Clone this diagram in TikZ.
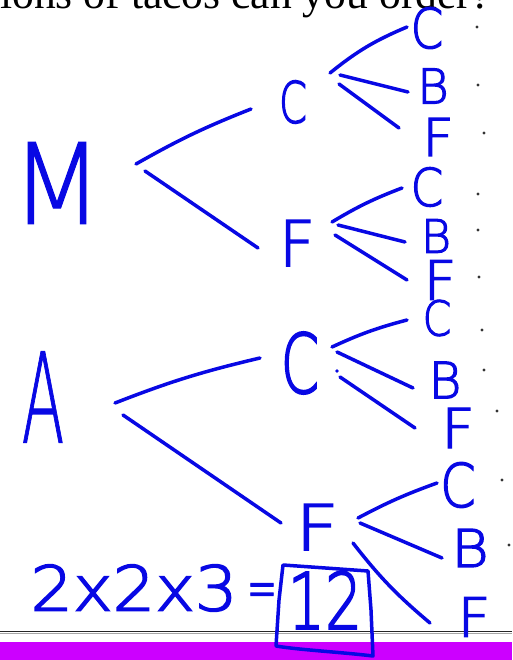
\documentclass[tikz,border=0pt]{standalone}
\usepackage{fontspec}
\usepackage{graphicx}
\setmainfont{Liberation Serif}
\setsansfont{Liberation Sans}
% thin sans for the pen-written letters, thickened by size
\IfFontExistsTF{DejaVu Sans ExtraLight}
  {\newfontfamily\bigpen{DejaVu Sans ExtraLight}[FakeBold=1]
   \newfontfamily\smallpen{DejaVu Sans ExtraLight}[FakeBold=2.5]}
  {\newfontfamily\bigpen{Liberation Sans}
   \newfontfamily\smallpen{Liberation Sans}}
\usetikzlibrary{calc}
\definecolor{ink}{RGB}{8,8,228}
\definecolor{barmagenta}{RGB}{204,0,255}
% pen-written letter: size, horizontal squeeze, text
\newcommand\hw[3]{{\fontsize{#1}{#1}\selectfont\scalebox{#2}[1]{#3}}}
\tikzset{
  letter/.style={text=ink, inner sep=0pt, font=\smallpen},
  bigletter/.style={letter, font=\bigpen},
  branch/.style={draw=ink, line width=3.5pt, line cap=round, line join=round},
}
\begin{document}
\begin{tikzpicture}[x=1pt, y=-1pt]
\useasboundingbox (0,0) rectangle (512,660);
\clip (0,0) rectangle (512,660);
\fill[white] (0,0) rectangle (512,660);

% question line cut at the top
\node[anchor=base west, inner sep=0pt, font=\fontsize{43.6}{44}\selectfont] (question) at (0,9) {ions of tacos can you order?};

% page rule and bar
\fill[barmagenta] (0,642) rectangle (512,660);
\draw[black!85, line width=1.6pt] (0,631.5) -- (512,631.5);
\draw[black!35, line width=1pt] (0,633.8) -- (512,633.8);

% first level
\node[bigletter] (m) at (57,183) {\hw{112}{0.95}{M}};
\node[bigletter] (a) at (43,397) {\hw{125}{0.5}{A}};

% second level
\node[letter] (mc) at (293,102) {\hw{57}{0.7}{C}};
\node[letter] (mf) at (297,243) {\hw{63}{1}{F}};
\node[letter] (ac) at (300,363) {\hw{82}{0.67}{C}};
\node[letter] (af) at (317,527) {\hw{63}{1.2}{F}};

% third level
\node[letter] (mc-c) at (427,28)  {\hw{55}{0.85}{C}};
\node[letter] (mc-b) at (433,86)  {\hw{48}{1}{B}};
\node[letter] (mc-f) at (438,137) {\hw{52}{1.05}{F}};
\node[letter] (mf-c) at (427,187) {\hw{52}{0.9}{C}};
\node[letter] (mf-b) at (436,236) {\hw{46}{1}{B}};
\node[letter] (mf-f) at (440,280) {\hw{54}{1.05}{F}};
\node[letter] (ac-c) at (437,318) {\hw{48}{0.85}{C}};
\node[letter] (ac-b) at (445,380) {\hw{50}{1}{B}};
\node[letter] (ac-f) at (458,428) {\hw{55}{1.05}{F}};
\node[letter] (af-c) at (458,485) {\hw{60}{0.85}{C}};
\node[letter] (af-b) at (470,548) {\hw{52}{1.1}{B}};
\node[letter] (af-f) at (474,617) {\hw{54}{1.05}{F}};

% branches
\draw[branch] ($(m)+(79,-19)$) to[bend left=4] ($(mc)+(-42,7)$);
\draw[branch] ($(m)+(88,-12)$) -- ($(mf)+(-39,5)$);
\draw[branch] ($(a)+(72,6)$) to[bend left=4] ($(ac)+(-40,-5)$);
\draw[branch] ($(a)+(80,18)$) -- ($(af)+(-36,-4)$);

\draw[branch] ($(mc)+(37,-29)$) to[bend left=8] ($(mc-c)+(-20,-1)$);
\draw[branch] ($(mc)+(47,-27)$) -- ($(mc-b)+(-25,6)$);
\draw[branch] ($(mc)+(46,-18)$) -- ($(mc-f)+(-39,-9)$);

\draw[branch] ($(mf)+(35,-21)$) to[bend left=5] ($(mf-c)+(-25,1)$);
\draw[branch] ($(mf)+(41,-18)$) -- ($(mf-b)+(-31,6)$);
\draw[branch] ($(mf)+(38,-8)$) -- ($(mf-f)+(-33,0)$);

\draw[branch] ($(ac)+(32,-16)$) to[bend left=5] ($(ac-c)+(-30,2)$);
\draw[branch] ($(ac)+(37,-11)$) -- ($(ac-b)+(-32,8)$);
\draw[branch] ($(ac)+(40,14)$) -- ($(ac-f)+(-43,0)$);
\fill[ink] ($(ac)+(37,8)$) circle (1.9pt);

\draw[branch] ($(af)+(41,-9)$) to[bend left=4] ($(af-c)+(-21,-2)$);
\draw[branch] ($(af)+(43,-4)$) -- ($(af-b)+(-28,10)$);
\draw[branch] ($(af)+(36,16)$) to[bend right=6] ($(af-f)+(-44,6)$);

% small dots to the right of the outcomes
\foreach \p in {(477,27),(478,85),(484,133),(478,194),(478,230),(479,277),
                (482,330),(484,370),(497,411),(502,480),(509,545)}
  \fill[black!80] \p circle (1.6pt);

% count
\node[letter] (product) at (134,588) {\hw{62}{1.08}{2x2x3}};
\node[letter] (equals) at (262,596) {\hw{60}{0.6}{=}};
\node[letter] (total) at (325,600) {\hw{78}{0.75}{12}};
\draw[branch] (283,565) -- (368,571) -- (371,610) -- (373,656)
  .. controls (340,652) and (300,650) .. (276,646) -- (279,600) -- (283,565);
\end{tikzpicture}
\end{document}
